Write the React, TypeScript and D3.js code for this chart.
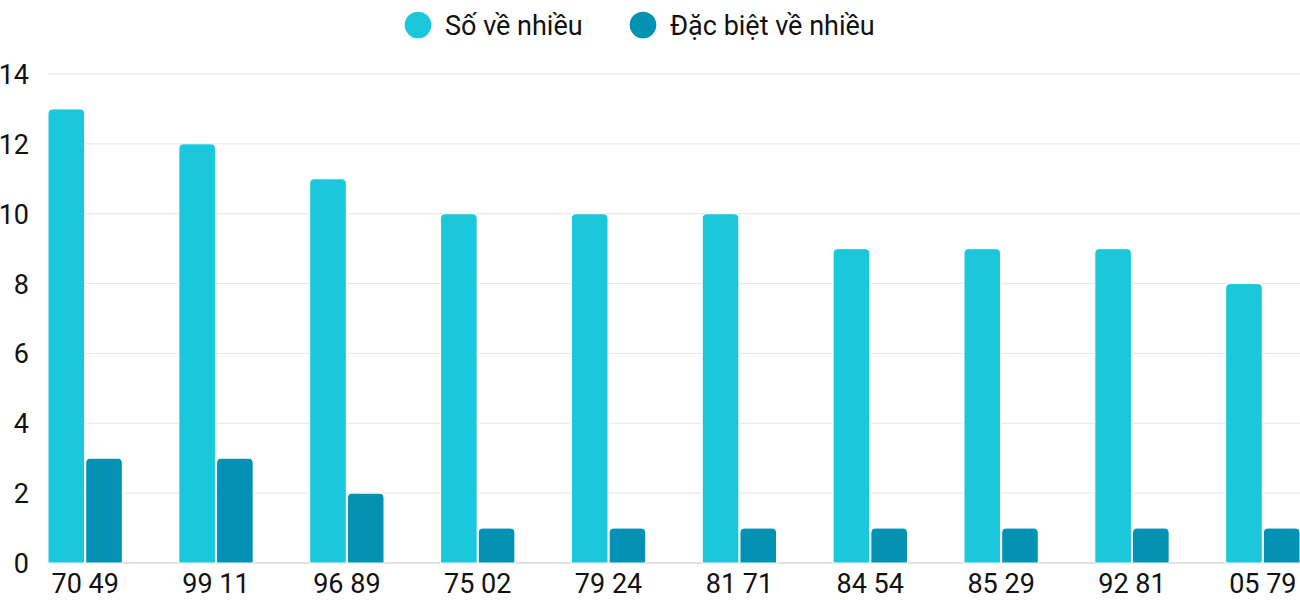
import { scaleBand, scaleLinear } from 'd3'
import { useMemo } from 'react'

const categories = ['70 49', '99 11', '96 89', '75 02', '79 24', '81 71', '84 54', '85 29', '92 81', '05 79']
const soVeNhieu = [13, 12, 11, 10, 10, 10, 9, 9, 9, 8]
const dacBietVeNhieu = [3, 3, 2, 1, 1, 1, 1, 1, 1, 1]
const seriesNames = ['Số về nhiều', 'Đặc biệt về nhiều']
const seriesColors = ['#1bc8db', '#0391b4']
const yTicks = [0, 2, 4, 6, 8, 10, 12, 14]

const width = 1300
const height = 600
const font = 'Roboto, "Noto Sans", sans-serif'
const fontSize = 27

// rounded top corners only
const barPath = (x: number, y: number, w: number, h: number, r: number) => {
  const rr = Math.min(r, h, w / 2)
  return `M${x},${y + h} L${x},${y + rr} Q${x},${y} ${x + rr},${y} L${x + w - rr},${y} Q${x + w},${y} ${x + w},${y + rr} L${x + w},${y + h} Z`
}

export default function App() {
  const series = [soVeNhieu, dacBietVeNhieu]

  const x = useMemo(
    () => scaleBand<string>().domain(categories).range([48, 1300]).paddingInner(0.432).paddingOuter(0),
    []
  )
  const xInner = useMemo(
    () => scaleBand<number>().domain([0, 1]).range([0, x.bandwidth()]).paddingInner(0.03),
    [x]
  )
  const y = useMemo(() => scaleLinear().domain([0, 14]).range([563, 74]), [])

  return (
    <div style={{ position: 'absolute', left: 0, top: 0 }}>
      <svg width={width} height={height} style={{ display: 'block', fontFamily: font }}>
        {/* grid */}
        {yTicks.map((t) => (
          <line
            key={t}
            x1={48}
            x2={width}
            y1={y(t)}
            y2={y(t)}
            stroke={t === 0 ? '#c4c4c4' : '#e6e6e6'}
            strokeWidth={1}
          />
        ))}
        {yTicks.map((t) => (
          <text
            key={'l' + t}
            x={29}
            y={y(t) + 1}
            textAnchor="end"
            dominantBaseline="central"
            fontSize={fontSize}
            fill="#111"
          >
            {t}
          </text>
        ))}

        {/* bars */}
        {categories.map((c, i) => (
          <g key={c} transform={`translate(${x(c)},0)`}>
            {series.map((s, k) => {
              const bx = xInner(k) ?? 0
              const by = y(s[i])
              return (
                <path
                  key={k}
                  d={barPath(bx, by, xInner.bandwidth(), y(0) - by, 5)}
                  fill={seriesColors[k]}
                  stroke="#fff"
                  strokeWidth={1}
                />
              )
            })}
            <text
              x={x.bandwidth() / 2}
              y={593}
              textAnchor="middle"
              fontSize={fontSize}
              fill="#111"
            >
              {c}
            </text>
          </g>
        ))}

        {/* legend */}
        <g>
          <circle cx={418} cy={25} r={13.3} fill={seriesColors[0]} />
          <text x={445} y={26} dominantBaseline="central" fontSize={fontSize} fill="#111">
            {seriesNames[0]}
          </text>
          <circle cx={643} cy={25} r={13.3} fill={seriesColors[1]} />
          <text x={670} y={26} dominantBaseline="central" fontSize={fontSize} fill="#111">
            {seriesNames[1]}
          </text>
        </g>
      </svg>
    </div>
  )
}
